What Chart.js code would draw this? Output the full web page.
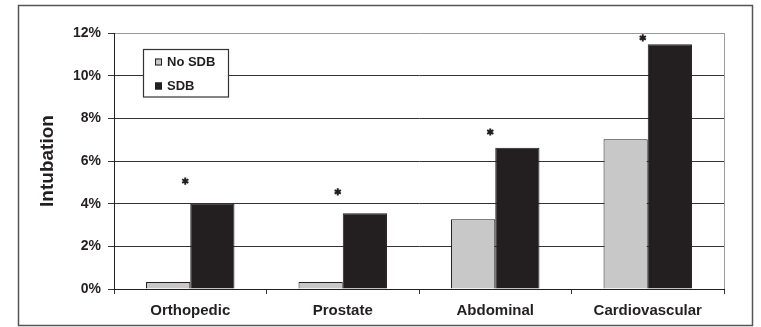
<!DOCTYPE html>
<html>
<head>
<meta charset="utf-8">
<script src="https://cdn.jsdelivr.net/npm/chart.js@4"></script>
<style>
  html, body { margin: 0; padding: 0; background: #fff; }
  canvas { display: block; }
</style>
</head>
<body>
<canvas id="chart" width="761" height="327"></canvas>
<script>
// Intubation rate by surgery type, SDB vs no SDB
const categories = ["Orthopedic", "Prostate", "Abdominal", "Cardiovascular"];
const noSdb = [0.33, 0.33, 3.27, 7.02];
const sdb = [4.0, 3.55, 6.62, 11.47];
// where the significance asterisks sit (in % units)
const starLevel = [5.06, 4.55, 7.36, 11.77];
const seriesNames = ["No SDB", "SDB"];
const yMax = 12;
const yStep = 2;

const INK = "#231f20";
const GRAY = "#c8c8c8";

// legend box, asterisks, frame
const extras = {
  id: "extras",
  afterDraw(chart) {
    const { ctx, chartArea, scales } = chart;
    ctx.save();

    // plot area right edge (light gray)
    ctx.strokeStyle = "#9a9a9a";
    ctx.lineWidth = 1;
    ctx.beginPath();
    ctx.moveTo(Math.round(chartArea.right) + 0.5, chartArea.top);
    ctx.lineTo(Math.round(chartArea.right) + 0.5, chartArea.bottom);
    ctx.stroke();

    // asterisks
    ctx.strokeStyle = INK;
    ctx.lineWidth = 2;
    starLevel.forEach((v, i) => {
      const cx = scales.x.getPixelForValue(i) - 5;
      const cy = scales.y.getPixelForValue(v);
      const r = 3.6;
      ctx.beginPath();
      for (let k = 0; k < 3; k++) {
        const a = Math.PI / 2 + (k * Math.PI) / 3;
        ctx.moveTo(cx + r * Math.cos(a), cy + r * Math.sin(a));
        ctx.lineTo(cx - r * Math.cos(a), cy - r * Math.sin(a));
      }
      ctx.stroke();
    });

    // legend
    ctx.fillStyle = "#fff";
    ctx.fillRect(144, 50, 84, 47);
    ctx.strokeStyle = "#333";
    ctx.lineWidth = 1.2;
    ctx.strokeRect(143.5, 49.5, 85, 47.5);
    ctx.font = "bold 13px 'Liberation Sans', Arial, sans-serif";
    ctx.textBaseline = "middle";
    chart.data.datasets.forEach((ds, i) => {
      const y = 62 + i * 24;
      ctx.fillStyle = ds.backgroundColor;
      ctx.fillRect(155, y - 3.5, 7, 7);
      ctx.strokeStyle = INK;
      ctx.lineWidth = 1;
      ctx.strokeRect(155.5, y - 3, 6, 6);
      ctx.fillStyle = INK;
      ctx.fillText(ds.label, 167, y + 0.5);
    });

    // outer frame
    ctx.strokeStyle = "#555";
    ctx.lineWidth = 1.5;
    ctx.strokeRect(18.5, 5.5, 734, 320);
    ctx.restore();
  },
};

new Chart(document.getElementById("chart"), {
  type: "bar",
  data: {
    labels: categories,
    datasets: [
      {
        label: seriesNames[0],
        data: noSdb,
        backgroundColor: GRAY,
        borderColor: INK,
        borderWidth: 1,
      },
      {
        label: seriesNames[1],
        data: sdb,
        backgroundColor: INK,
        borderColor: INK,
        borderWidth: 1,
      },
    ],
  },
  options: {
    responsive: false,
    animation: false,
    devicePixelRatio: 1,
    categoryPercentage: 0.58,
    barPercentage: 1.0,
    layout: { padding: { left: 0, right: 37, top: 33, bottom: 0 } },
    plugins: {
      legend: { display: false },
      tooltip: { enabled: false },
    },
    scales: {
      x: {
        afterFit: (s) => {
          s.height = 38;
        },
        grid: {
          offset: true,
          drawOnChartArea: false,
          tickLength: 5,
          color: "#333",
        },
        border: { color: INK, width: 1 },
        ticks: {
          color: INK,
          padding: 8,
          font: { family: "'Liberation Sans', Arial, sans-serif", size: 15, weight: "bold" },
        },
      },
      y: {
        min: 0,
        max: yMax,
        afterFit: (s) => {
          s.width = 114;
        },
        grid: {
          color: (c) => (c.tick && c.tick.value === yMax ? "#9a9a9a" : "#333"),
          tickColor: "#333",
          tickLength: 6,
        },
        border: { color: INK, width: 1 },
        ticks: {
          stepSize: yStep,
          color: INK,
          padding: 7,
          callback: (v) => v + "%",
          font: { family: "'Liberation Sans', Arial, sans-serif", size: 14, weight: "bold" },
        },
        title: {
          display: true,
          text: "Intubation",
          color: INK,
          padding: { top: 36, bottom: 0 },
          font: { family: "'Liberation Sans', Arial, sans-serif", size: 19, weight: "bold" },
        },
      },
    },
  },
  plugins: [extras],
});
</script>
</body>
</html>
